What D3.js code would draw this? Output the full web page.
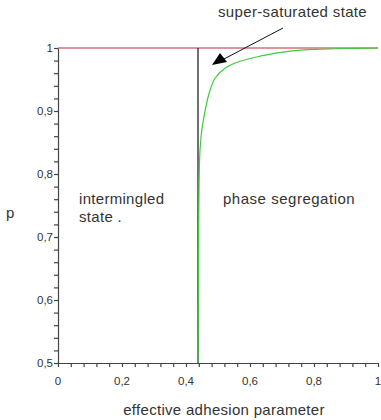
<!DOCTYPE html>
<html><head><meta charset="utf-8">
<script src="https://cdn.jsdelivr.net/npm/d3@7"></script>
<style>body{margin:0;background:#fff}svg{display:block}text{font-family:"Liberation Sans",Arial,sans-serif;fill:#333}</style>
</head><body><svg id="c" width="381" height="420"></svg>
<script>
const xTicks = [0, 0.2, 0.4, 0.6, 0.8, 1];
const xTickLabels = ["0", "0,2", "0,4", "0,6", "0,8", "1"];
const yTicks = [0.5, 0.6, 0.7, 0.8, 0.9, 1];
const yTickLabels = ["0,5", "0,6", "0,7", "0,8", "0,9", "1"];
const criticalX = 0.4375;
const saturationP = 1;
const curveX = [0.4375, 0.4385, 0.4395, 0.441, 0.4438, 0.45, 0.4616, 0.4716, 0.4906, 0.522, 0.569, 0.631, 0.725, 0.819, 1.0];
const curveP = [0.5, 0.62, 0.72, 0.79, 0.838, 0.872, 0.905, 0.927, 0.952, 0.968, 0.979, 0.987, 0.995, 0.998, 1.0];

const svg = d3.select("#c");
const x = d3.scaleLinear().domain([0, 1]).range([58, 378]);
const y = d3.scaleLinear().domain([0.5, 1]).range([363, 48]);

const gx = svg.append("g").attr("transform", `translate(0,${y(0.5)})`)
  .call(d3.axisBottom(x).tickValues(d3.range(0, 1.0001, 0.04)).tickFormat("").tickSize(4).tickSizeOuter(0));
const gy = svg.append("g").attr("transform", `translate(${x(0)},0)`)
  .call(d3.axisLeft(y).tickValues(d3.range(0.5, 1.0001, 0.02)).tickFormat("").tickSize(4).tickSizeOuter(0));
[gx, gy].forEach(g => { g.selectAll("path,line").attr("stroke", "#444").attr("stroke-width", 1.2); });

svg.append("g").selectAll("text").data(xTicks).join("text")
  .attr("x", d => x(d)).attr("y", 385).attr("text-anchor", "middle")
  .attr("font-size", 11.5).text((d, i) => xTickLabels[i]);
svg.append("g").selectAll("text").data(yTicks).join("text")
  .attr("x", 53).attr("y", d => y(d) + 4).attr("text-anchor", "end")
  .attr("font-size", 11.5).text((d, i) => yTickLabels[i]);

svg.append("line").attr("x1", x(0)).attr("x2", x(1)).attr("y1", y(saturationP)).attr("y2", y(saturationP))
  .attr("stroke", "#c0283c").attr("stroke-width", 1.2);
svg.append("line").attr("x1", x(criticalX)).attr("x2", x(criticalX)).attr("y1", y(1)).attr("y2", y(0.5))
  .attr("stroke", "#111").attr("stroke-width", 1.2);
const pts = curveX.map((d, i) => [d, curveP[i]]);
svg.append("path").datum(pts)
  .attr("d", d3.line().x(d => x(d[0])).y(d => y(d[1])).curve(d3.curveCatmullRom.alpha(0.5)))
  .attr("fill", "none").attr("stroke", "#3ccc3c").attr("stroke-width", 1.2);

svg.append("line").attr("x1", 283).attr("y1", 28).attr("x2", 224).attr("y2", 59)
  .attr("stroke", "#111").attr("stroke-width", 1);
svg.append("path").attr("d", "M212,65 L220,53 L227,62 Z").attr("fill", "#000");

const ann = (tx, ty, s, anchor) => svg.append("text").attr("x", tx).attr("y", ty)
  .attr("font-size", 15).attr("letter-spacing", 0.3).attr("text-anchor", anchor || "start").text(s);
ann(218, 17, "super-saturated state").attr("textLength", 149).attr("lengthAdjust", "spacing");
ann(79, 204, "intermingled");
ann(79, 222, "state .");
ann(223, 204, "phase segregation").attr("textLength", 132).attr("lengthAdjust", "spacing");
ann(6, 218, "p");
ann(224, 415, "effective adhesion parameter", "middle");
</script></body></html>
